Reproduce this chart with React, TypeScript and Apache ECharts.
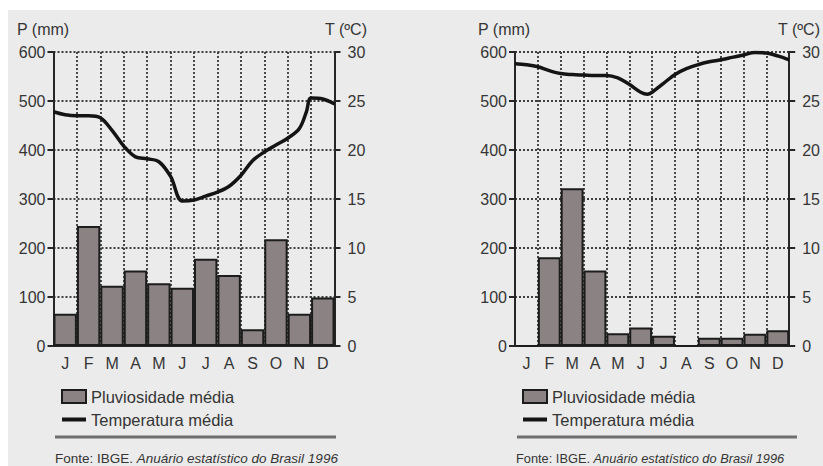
import React, { useEffect, useRef } from "react";
import * as echarts from "echarts";

const months = ["J", "F", "M", "A", "M", "J", "J", "A", "S", "O", "N", "D"];
const rainLeft = [66, 245, 123, 154, 128, 119, 178, 145, 34, 218, 66, 99];
const rainRight = [0, 181, 322, 154, 26, 38, 21, 0, 17, 17, 25, 32];

// temperature curve samples: position along the year (in months, 0..12) and °C
const tempPosLeft = [0, 0.5, 1, 1.5, 2, 2.5, 3, 3.5, 4, 4.5, 5, 5.5, 6, 6.5, 7, 7.5, 8, 8.5, 9, 9.5, 10, 10.5, 10.8, 11, 11.5, 12];
const tempLeft = [23.9, 23.6, 23.5, 23.5, 23.3, 22.0, 20.4, 19.3, 19.1, 18.8, 17.3, 14.8, 14.9, 15.3, 15.7, 16.3, 17.4, 18.9, 19.8, 20.5, 21.2, 22.2, 23.9, 25.3, 25.2, 24.7];
const tempPosRight = [0, 0.5, 1, 1.5, 2, 2.5, 3, 3.5, 4, 4.5, 5, 5.5, 5.8, 6, 6.5, 7, 7.5, 8, 8.5, 9, 9.5, 10, 10.5, 11, 11.5, 12];
const tempRight = [28.8, 28.7, 28.5, 28.1, 27.8, 27.7, 27.65, 27.6, 27.6, 27.35, 26.7, 25.9, 25.7, 25.9, 26.8, 27.7, 28.3, 28.7, 29.0, 29.2, 29.45, 29.7, 29.95, 29.9, 29.6, 29.2];

const pTicks = { min: 0, max: 600, interval: 100 };
const tTicks = { min: 0, max: 30, interval: 5 };

const seriesNames = ["Pluviosidade média", "Temperatura média"];
const axisTitles = ["P (mm)", "T (ºC)"];
const sourcePlain = "Fonte: IBGE. ";
const sourceItalic = "Anuário estatístico do Brasil 1996";

const FONT = "'Liberation Sans', Arial, Helvetica, sans-serif";
const TXT = "#353535";
const AX = "#262626";
const BAR = "#8b8383";

export default function App() {
  const ref = useRef<HTMLDivElement>(null);
  useEffect(() => {
    if (!ref.current) return;
    const chart = echarts.init(ref.current, undefined, { renderer: "svg" });

    const grids = [
      { left: 53.5, top: 52, width: 281, height: 294 },
      { left: 515, top: 52, width: 283, height: 294 },
    ];

    const xAxes: any[] = [];
    const yAxes: any[] = [];
    grids.forEach((g, i) => {
      xAxes.push({
        type: "category",
        gridIndex: i,
        data: months,
        position: "bottom",
        boundaryGap: true,
        axisLine: { lineStyle: { color: AX, width: 2 } },
        axisTick: { show: false },
        axisLabel: { fontSize: 16, color: TXT, margin: 9, fontFamily: FONT, interval: 0 },
        splitLine: { show: true, interval: 0, lineStyle: { color: "#383838", type: [2, 2], width: 1.8 } },
      });
      xAxes.push({
        type: "value",
        gridIndex: i,
        min: 0,
        max: 12,
        position: "top",
        axisLine: { show: true, lineStyle: { color: AX, width: 2 } },
        axisTick: { show: false },
        axisLabel: { show: false },
        splitLine: { show: false },
      });
      yAxes.push({
        type: "value",
        gridIndex: i,
        position: "left",
        ...pTicks,
        axisLine: { show: true, lineStyle: { color: AX, width: 2 } },
        axisTick: { show: true, length: 6, lineStyle: { color: AX, width: 2 } },
        axisLabel: { fontSize: 16, color: TXT, margin: 8, fontFamily: FONT },
        splitLine: { show: true, lineStyle: { color: "#3e3e3e", type: [2, 2], width: 1.8 } },
      });
      yAxes.push({
        type: "value",
        gridIndex: i,
        position: "right",
        ...tTicks,
        axisLine: { show: true, lineStyle: { color: AX, width: 2 } },
        axisTick: { show: true, length: 6, lineStyle: { color: AX, width: 2 } },
        axisLabel: { fontSize: 16, color: TXT, margin: 13, fontFamily: FONT },
        splitLine: { show: false },
      });
    });

    const mkBar = (data: number[], i: number) => ({
      type: "bar",
      name: seriesNames[0],
      xAxisIndex: i * 2,
      yAxisIndex: i * 2,
      data,
      barWidth: "100%",
      barCategoryGap: 0,
      itemStyle: { color: BAR, borderColor: "#1c1c1c", borderWidth: 2 },
      z: 3,
    });
    const mkLine = (pos: number[], t: number[], i: number) => ({
      type: "line",
      name: seriesNames[1],
      xAxisIndex: i * 2 + 1,
      yAxisIndex: i * 2 + 1,
      data: pos.map((p, k) => [p, t[k]]),
      smooth: 0.35,
      symbol: "none",
      lineStyle: { color: "#141414", width: 3.5 },
      itemStyle: { color: "#141414" },
      z: 4,
    });

    const legendFor = (left: number) => ({
      orient: "vertical",
      left,
      top: 383,
      itemWidth: 24,
      itemHeight: 13,
      itemGap: 6,
      selectedMode: false,
      textStyle: { fontSize: 16.5, color: TXT, fontFamily: FONT, lineHeight: 17 },
      data: [
        { name: seriesNames[0], icon: "rect" },
        { name: seriesNames[1], icon: "path://M0,0 L24,0 L24,4 L0,4 Z", itemStyle: { color: "#141414", borderWidth: 0 } },
      ],
    });

    const textEl = (x: number, y: number, text: string, align: string) => ({
      type: "text",
      x,
      y,
      style: { text, fontSize: 16, fontFamily: FONT, fill: TXT, align, verticalAlign: "middle" },
    });
    const sourceEl = (x: number, size: number) => ({
      type: "text",
      x,
      y: 458,
      style: {
        text: sourcePlain + "{i|" + sourceItalic + "}",
        fontSize: size,
        fontFamily: FONT,
        fill: TXT,
        verticalAlign: "middle",
        rich: { i: { fontStyle: "italic", fontSize: size, fontFamily: FONT, fill: TXT } },
      },
    });

    chart.setOption({
      animation: false,
      backgroundColor: "#ffffff",
      grid: grids,
      xAxis: xAxes,
      yAxis: yAxes,
      legend: [legendFor(56), legendFor(517)],
      series: [
        mkBar(rainLeft, 0),
        mkLine(tempPosLeft, tempLeft, 0),
        mkBar(rainRight, 1),
        mkLine(tempPosRight, tempRight, 1),
      ],
      graphic: [
        { type: "rect", z: -10, silent: true, shape: { x: 8, y: 10, width: 815, height: 456 }, style: { fill: "#ebebeb" } },
        textEl(17, 29, axisTitles[0], "left"),
        textEl(367, 29, axisTitles[1], "right"),
        textEl(478, 29, axisTitles[0], "left"),
        textEl(820, 29, axisTitles[1], "right"),
        { type: "line", shape: { x1: 55, y1: 437, x2: 336, y2: 437 }, style: { stroke: "#6e6e6e", lineWidth: 3 } },
        { type: "line", shape: { x1: 517, y1: 437, x2: 797, y2: 437 }, style: { stroke: "#6e6e6e", lineWidth: 3 } },
        sourceEl(55, 13.5),
        sourceEl(516, 12.8),
      ],
    });
    return () => chart.dispose();
  }, []);
  return <div ref={ref} style={{ position: "absolute", left: 0, top: 0, width: 823, height: 466 }} />;
}
